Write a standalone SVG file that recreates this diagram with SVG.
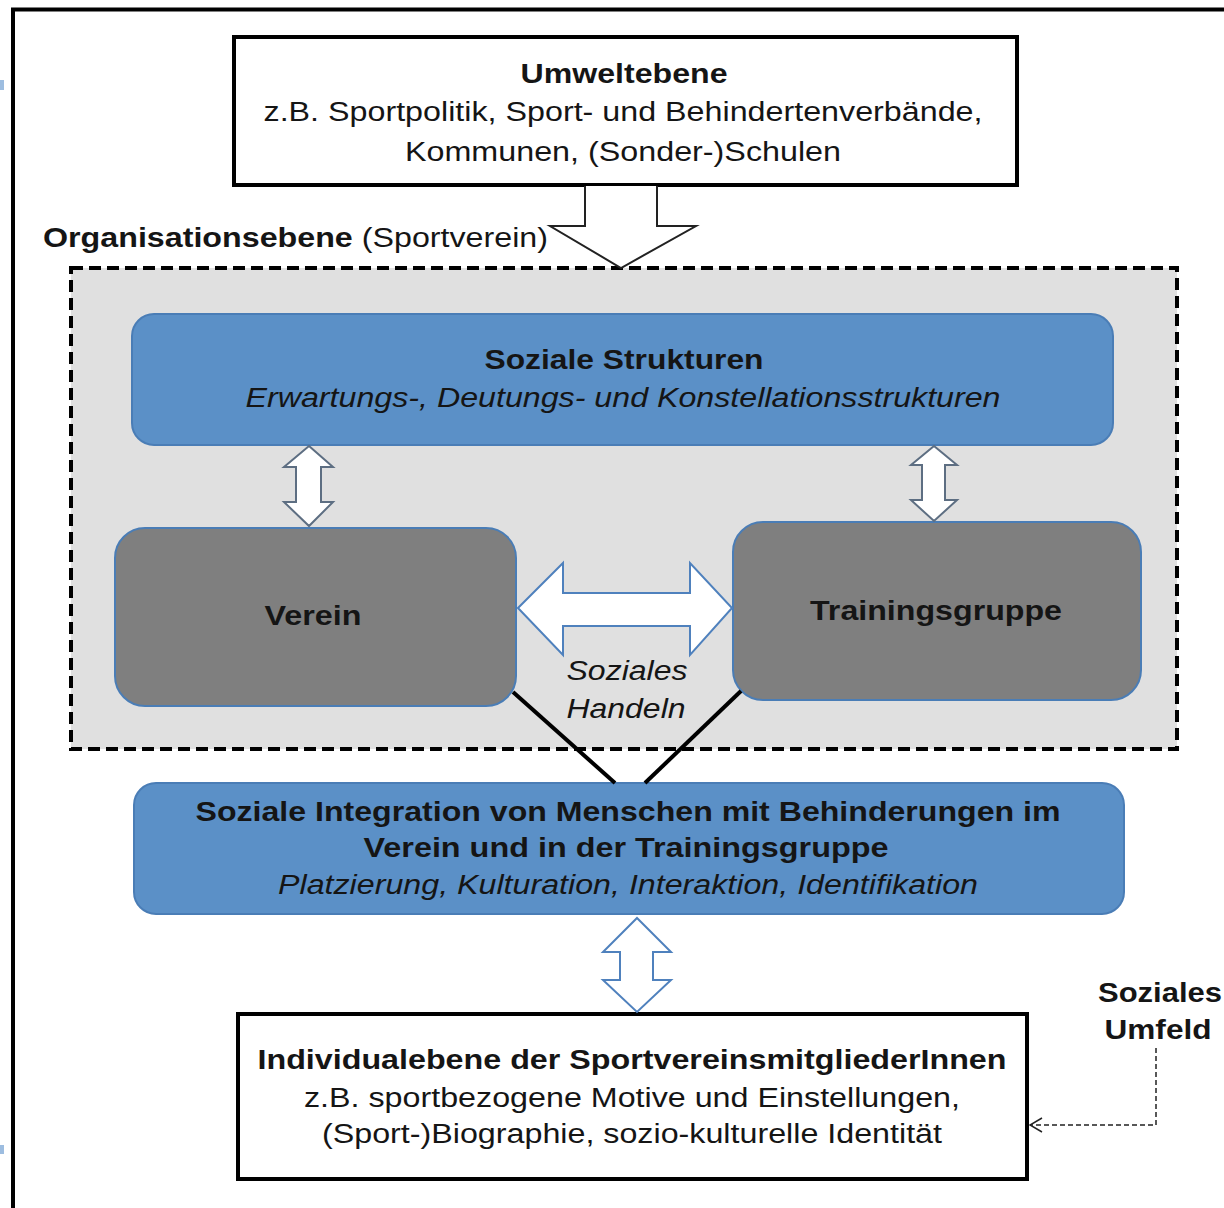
<svg xmlns="http://www.w3.org/2000/svg" width="1224" height="1208" viewBox="0 0 1224 1208">
<style>
text{font-family:"Liberation Sans",Arial,sans-serif;font-size:27px;fill:#151515}
.b{font-weight:bold}
.i{font-style:italic}
.c{text-anchor:middle}
.frame{fill:#fff;stroke:#000;stroke-width:4}
.blue{fill:#5b90c7;stroke:#4a7db6;stroke-width:2}
.grey{fill:#7f7f7f;stroke:#4a7db6;stroke-width:2}
.dbl{fill:#fff;stroke:#5d6e82;stroke-width:2;stroke-linejoin:miter}
.dblb{fill:#fff;stroke:#4f81bd;stroke-width:2}
</style>
<defs>
<marker id="open" viewBox="0 0 14 16" refX="13" refY="8" markerWidth="14" markerHeight="16" markerUnits="userSpaceOnUse" orient="auto">
<path d="M1,1 L13,8 L1,15" fill="none" stroke="#222" stroke-width="1.5"/>
</marker>
</defs>
<rect width="1224" height="1208" fill="#fff"/>
<rect x="0" y="80" width="4" height="10" fill="#9dbde0"/>
<rect x="0" y="1145" width="4" height="9" fill="#9dbde0"/>
<path d="M13,1212 V9.5 H1228" fill="none" stroke="#000" stroke-width="4"/>

<g id="umweltebene">
<rect class="frame" x="234" y="37" width="783" height="148"/>
<text class="b c" x="624" y="83" textLength="207" lengthAdjust="spacingAndGlyphs">Umweltebene</text>
<text class="c" x="623" y="121" textLength="719" lengthAdjust="spacingAndGlyphs">z.B. Sportpolitik, Sport- und Behindertenverbände,</text>
<text class="c" x="623" y="161" textLength="436" lengthAdjust="spacingAndGlyphs">Kommunen, (Sonder-)Schulen</text>
</g>

<g id="organisationsebene">
<rect x="71" y="268" width="1106" height="481" fill="#e0e0e0" stroke="#000" stroke-width="4" stroke-dasharray="12,6"/>
<text x="43" y="247" textLength="505" lengthAdjust="spacingAndGlyphs"><tspan class="b">Organisationsebene</tspan> (Sportverein)</text>
</g>

<g id="soziale-strukturen">
<rect class="blue" x="132" y="314" width="981" height="131" rx="22"/>
<text class="b c" x="624" y="369" textLength="279" lengthAdjust="spacingAndGlyphs">Soziale Strukturen</text>
<text class="i c" x="623" y="407" textLength="755" lengthAdjust="spacingAndGlyphs">Erwartungs-, Deutungs- und Konstellationsstrukturen</text>
</g>

<g id="verein">
<rect class="grey" x="115" y="528" width="401" height="178" rx="30"/>
<text class="b c" x="313" y="625" textLength="97" lengthAdjust="spacingAndGlyphs">Verein</text>
</g>

<g id="trainingsgruppe">
<rect class="grey" x="733" y="522" width="408" height="178" rx="30"/>
<text class="b c" x="936" y="620" textLength="252" lengthAdjust="spacingAndGlyphs">Trainingsgruppe</text>
</g>

<g id="soziale-integration">
<rect class="blue" x="134" y="783" width="990" height="131" rx="22"/>
<text class="b c" x="628" y="821" textLength="865" lengthAdjust="spacingAndGlyphs">Soziale Integration von Menschen mit Behinderungen im</text>
<text class="b c" x="626" y="857" textLength="525" lengthAdjust="spacingAndGlyphs">Verein und in der Trainingsgruppe</text>
<text class="i c" x="628" y="894" textLength="700" lengthAdjust="spacingAndGlyphs">Platzierung, Kulturation, Interaktion, Identifikation</text>
</g>

<g id="individualebene">
<rect class="frame" x="238" y="1014" width="789" height="165"/>
<text class="b c" x="632" y="1069" textLength="749" lengthAdjust="spacingAndGlyphs">Individualebene der SportvereinsmitgliederInnen</text>
<text class="c" x="632" y="1107" textLength="656" lengthAdjust="spacingAndGlyphs">z.B. sportbezogene Motive und Einstellungen,</text>
<text class="c" x="632" y="1143" textLength="620" lengthAdjust="spacingAndGlyphs">(Sport-)Biographie, sozio-kulturelle Identität</text>
</g>

<g id="soziales-umfeld">
<text class="b c" x="1160" y="1002" textLength="124" lengthAdjust="spacingAndGlyphs">Soziales</text>
<text class="b c" x="1158" y="1039" textLength="107" lengthAdjust="spacingAndGlyphs">Umfeld</text>
</g>

<g id="connectors">
<polygon points="585,186 585,226 550,226 621,268 696,226 657,226 657,186" fill="#fff" stroke="none"/>
<path d="M585,186 V226 H550 L621,268 L696,226 H657 V186" fill="none" stroke="#222" stroke-width="2"/>
<polygon class="dbl" points="309,446 333,467 321,467 321,502 333,502 309,526 284,502 296,502 296,467 284,467"/>
<polygon class="dbl" points="934,446 957,465 945,465 945,500 957,500 934,521 911,500 922,500 922,465 911,465"/>
<polygon class="dblb" points="518,608 563,563 563,593 690,593 690,563 732,608 690,655 690,626 563,626 563,655"/>
<text class="i c" x="627" y="680" textLength="121" lengthAdjust="spacingAndGlyphs">Soziales</text>
<text class="i c" x="626" y="718" textLength="119" lengthAdjust="spacingAndGlyphs">Handeln</text>
<line x1="513" y1="692" x2="615" y2="783" stroke="#000" stroke-width="4"/>
<line x1="741" y1="691" x2="645" y2="783" stroke="#000" stroke-width="4"/>
<polygon class="dblb" points="637,918 671,952 653,952 653,980 671,980 637,1012 603,980 620,980 620,952 603,952"/>
<path d="M1156,1048 V1125 H1030" fill="none" stroke="#222" stroke-width="1.5" stroke-dasharray="5,3" marker-end="url(#open)"/>
</g>
</svg>
